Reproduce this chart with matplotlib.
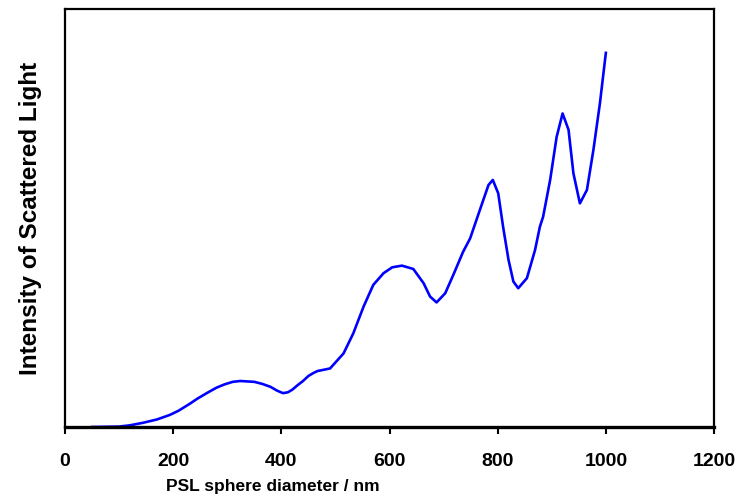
import matplotlib
matplotlib.use("Agg")
import matplotlib.pyplot as plt

# Data (arbitrary intensity units, 0-100)
diameter = [50, 100, 120, 144, 170, 194, 210, 230, 245, 262, 280, 295, 310,
            324, 350, 365, 380, 392, 403, 412, 420, 430, 440, 450, 459, 467,
            475, 490, 515, 533, 552, 570, 589, 605, 623, 644, 663, 675, 687,
            703, 718, 736, 749, 767, 783, 791, 801, 810, 820, 829, 838, 854,
            869, 878, 884, 897, 909, 920, 931, 940, 952, 965, 977, 989, 1000]
intensity = [0.0, 0.1, 0.4, 1.0, 1.8, 2.9, 3.9, 5.5, 6.8, 8.1, 9.4, 10.2, 10.8,
             11.0, 10.8, 10.3, 9.6, 8.7, 8.1, 8.3, 8.9, 10.0, 11.0, 12.2, 12.9, 13.4,
             13.6, 14.0, 17.6, 22.4, 28.8, 34.0, 36.8, 38.2, 38.6, 37.8, 34.4, 31.2, 29.8,
             32.0, 36.4, 41.9, 45.1, 51.9, 57.9, 59.1, 55.9, 47.9, 40.0, 34.8, 33.2, 35.6,
             42.3, 47.9, 50.3, 59.1, 69.4, 75.0, 71.1, 60.7, 53.5, 56.7, 66.3, 77.4, 89.5]
xticks = [0, 200, 400, 600, 800, 1000, 1200]

plt.rcParams['font.family'] = ['Liberation Sans', 'DejaVu Sans']

fig = plt.figure(figsize=(7.44, 4.99), dpi=100)
ax = fig.add_axes([0.0874, 0.1443, 0.8723, 0.8377])
ax.plot(diameter, intensity, color='#0000ff', lw=1.9, solid_joinstyle='round')

ax.set_xlim(0, 1200)
ax.set_ylim(0, 100)
ax.set_xticks(xticks)
ax.set_xticklabels([str(t) for t in xticks], fontsize=14, fontweight='bold')
ax.set_yticks([])
ax.tick_params(axis='x', direction='out', length=5, width=1.5, pad=14)

for s in ['left', 'top', 'right']:
    ax.spines[s].set_linewidth(1.6)
ax.spines['bottom'].set_linewidth(2.4)

ax.set_xlabel('PSL sphere diameter / nm', fontsize=12.5, fontweight='bold')
ax.xaxis.set_label_coords(0.32, -0.125)
ax.set_ylabel('Intensity of Scattered Light', fontsize=17.5, fontweight='bold')
ax.yaxis.set_label_coords(-0.036, 0.5)

fig.savefig('out.png', dpi=100)
